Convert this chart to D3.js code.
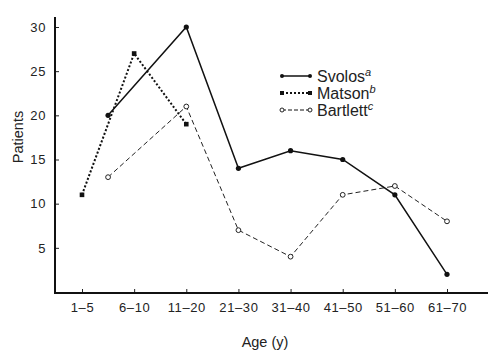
<!DOCTYPE html>
<html><head><meta charset="utf-8">
<script src="https://cdn.jsdelivr.net/npm/d3@7"></script>
<style>body{margin:0;background:#fff}svg{display:block}text{font-family:"Liberation Sans",Arial,sans-serif;fill:#222}</style>
</head><body><svg id="c" width="500" height="354"></svg>
<script>
const categories = ["1\u20135","6\u201310","11\u201320","21\u201330","31\u201340","41\u201350","51\u201360","61\u201370"];
const yTicks = [5,10,15,20,25,30];
// position = category index (0.5 = between 1–5 and 6–10)
const svolosPos = [0.5,2,3,4,5,6,7];
const svolosVal = [20,30,14,16,15,11,2];
const matsonPos = [0,1,2];
const matsonVal = [11,27,19];
const bartlettPos = [0.5,2,3,4,5,6,7];
const bartlettVal = [13,21,7,4,11,12,8];

const svg = d3.select("#c");
const x = d3.scaleLinear().domain([0,7]).range([82,447]);
const y = d3.scaleLinear().domain([0,30]).range([292,27]);
const axL = 55, axB = 293, axR = 488, axT = 17;

// axes
const xa = svg.append("g").attr("transform",`translate(0,${axB})`)
  .call(d3.axisBottom(x).tickValues(d3.range(8)).tickFormat(i=>categories[i]).tickSizeInner(-4).tickSizeOuter(0).tickPadding(10));
xa.select(".domain").remove();
xa.selectAll("line").attr("stroke","#222").attr("stroke-width",1);
xa.selectAll("text").style("font-size","13px").style("letter-spacing","0.6px").attr("fill","#222");
const ya = svg.append("g").attr("transform",`translate(${axL},0)`)
  .call(d3.axisLeft(y).tickValues(yTicks).tickSizeInner(-4).tickSizeOuter(0).tickPadding(9));
ya.select(".domain").remove();
ya.selectAll("line").attr("stroke","#222");
ya.selectAll("text").style("font-size","13px").style("letter-spacing","0.6px").attr("fill","#222");
svg.append("path").attr("d",`M${axL},${axT}V${axB}H${axR}`).attr("fill","none").attr("stroke","#111").attr("stroke-width",2);

svg.append("text").attr("x",265).attr("y",347).attr("text-anchor","middle").style("font-size","14.5px").text("Age (y)");
svg.append("text").attr("transform","translate(23,137) rotate(-90)").attr("text-anchor","middle").style("font-size","14.5px").text("Patients");

const line = d3.line().x(d=>x(d[0])).y(d=>y(d[1]));
const S = d3.zip(svolosPos,svolosVal), M = d3.zip(matsonPos,matsonVal), B = d3.zip(bartlettPos,bartlettVal);
svg.append("path").datum(B).attr("d",line).attr("fill","none").attr("stroke","#222").attr("stroke-width",1).attr("stroke-dasharray","5,3");
svg.append("path").datum(M).attr("d",line).attr("fill","none").attr("stroke","#111").attr("stroke-width",2).attr("stroke-dasharray","2,2");
svg.append("path").datum(S).attr("d",line).attr("fill","none").attr("stroke","#111").attr("stroke-width",1.5);
svg.selectAll(".s").data(S).join("circle").attr("cx",d=>x(d[0])).attr("cy",d=>y(d[1])).attr("r",2.6).attr("fill","#111");
svg.selectAll(".m").data(M).join("rect").attr("x",d=>x(d[0])-2.3).attr("y",d=>y(d[1])-2.3).attr("width",4.6).attr("height",4.6).attr("fill","#111");
svg.selectAll(".b").data(B).join("circle").attr("cx",d=>x(d[0])).attr("cy",d=>y(d[1])).attr("r",2.4).attr("fill","#fff").attr("stroke","#222").attr("stroke-width",1);

// legend
const lg = [{n:"Svolos",s:"a",t:"s"},{n:"Matson",s:"b",t:"m"},{n:"Bartlett",s:"c",t:"b"}];
lg.forEach((d,i)=>{
  const yy = 76 + i*17, x0 = 282, x1 = 310;
  const p = svg.append("line").attr("x1",x0).attr("x2",x1).attr("y1",yy).attr("y2",yy).attr("stroke","#111");
  if(d.t==="s"){p.attr("stroke-width",1.5);[x0,x1].forEach(xx=>svg.append("circle").attr("cx",xx).attr("cy",yy).attr("r",2).attr("fill","#111"));}
  if(d.t==="m"){p.attr("stroke-width",2).attr("stroke-dasharray","2,2");[x0,x1].forEach(xx=>svg.append("rect").attr("x",xx-2).attr("y",yy-2).attr("width",4).attr("height",4).attr("fill","#111"));}
  if(d.t==="b"){p.attr("stroke-width",1).attr("stroke-dasharray","4,2");[x0,x1].forEach(xx=>svg.append("circle").attr("cx",xx).attr("cy",yy).attr("r",2).attr("fill","#fff").attr("stroke","#222"));}
  const t = svg.append("text").attr("x",317).attr("y",yy+5.5).style("font-size","16px").text(d.n);
  t.append("tspan").attr("dy",-6).style("font-size","11px").style("font-style","italic").text(d.s);
});
</script></body></html>
